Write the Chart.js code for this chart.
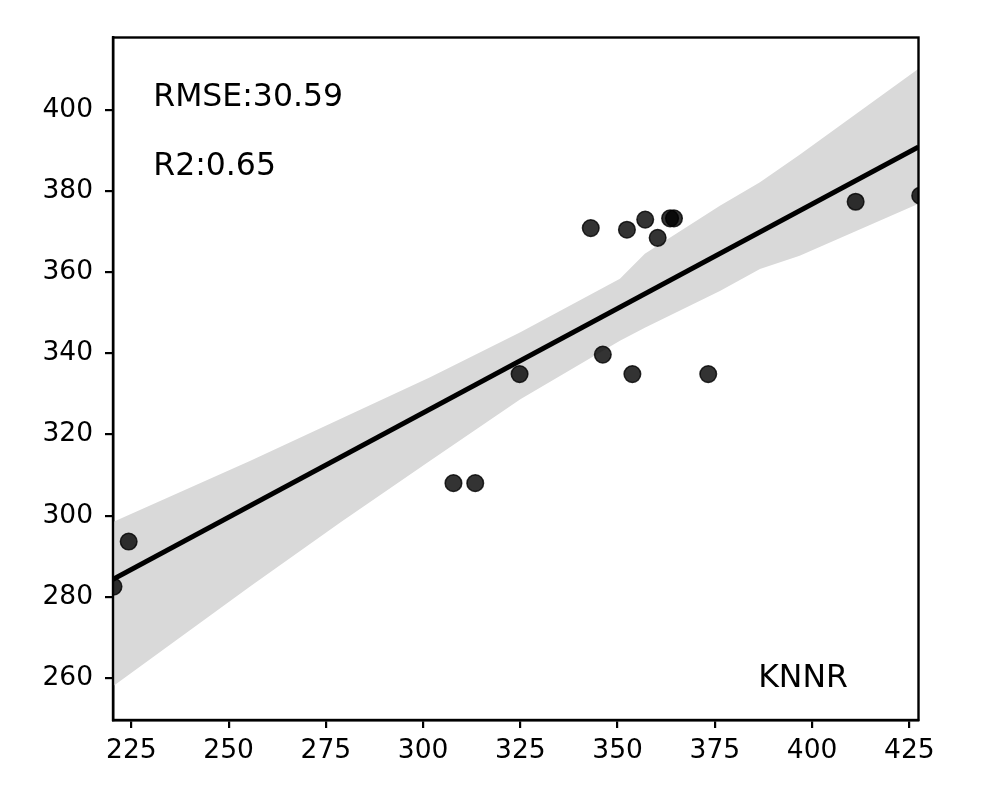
<!DOCTYPE html>
<html>
<head>
<meta charset="utf-8">
<script src="https://cdn.jsdelivr.net/npm/chart.js@4.4.1/dist/chart.umd.min.js"></script>
<style>
  html, body { margin: 0; padding: 0; background: #ffffff; }
  #wrap { width: 984px; height: 801px; position: relative; }
</style>
</head>
<body>
<div id="wrap"><canvas id="c"></canvas></div>
<script>
// ---- data ----
const pointX = [220.4, 224.3, 307.8, 313.4, 324.8, 343.1, 346.2, 352.4, 353.8, 357.1, 360.3, 363.5, 364.5, 373.3, 411.2, 427.8];
const pointY = [282.5, 293.6, 308.0, 308.0, 334.9, 370.9, 339.7, 370.5, 334.9, 373.0, 368.5, 373.3, 373.3, 334.9, 377.4, 378.9];

const fitX = [220.27, 427.36];
const fitY = [284.3, 390.9];

const bandX     = [220.27, 255.6, 278.7, 301.8, 325.0, 350.6, 357.0, 376.3, 386.6, 396.8, 427.36];
const bandUpper = [298.4, 313.5, 323.8, 334.1, 345.2, 358.4, 364.6, 376.4, 382.2, 389.0, 410.2];
const bandLower = [257.9, 282.6, 298.3, 313.5, 328.7, 343.1, 346.3, 355.4, 360.8, 364.1, 376.9];

const xTicks = [225, 250, 275, 300, 325, 350, 375, 400, 425];
const yTicks = [260, 280, 300, 320, 340, 360, 380, 400];
const xRange = [220.27, 427.36];
const yRange = [249.6, 417.9];

const metricLabels = ['RMSE:30.59', 'R2:0.65'];
const modelLabel = 'KNNR';

// ---- build ----
const zip = (xs, ys) => xs.map((x, i) => ({ x: x, y: ys[i] }));
const FONT = '"DejaVu Sans", "Liberation Sans", sans-serif';

const textPlugin = {
  id: 'frameAndText',
  afterDraw(chart) {
    const { ctx, chartArea: a } = chart;
    const w = a.right - a.left, h = a.bottom - a.top;
    ctx.save();
    ctx.strokeStyle = '#000';
    ctx.lineWidth = 2.4;
    ctx.strokeRect(a.left, a.top, w, h);
    ctx.fillStyle = '#000';
    ctx.font = '31.5px ' + FONT;
    ctx.textAlign = 'left';
    ctx.textBaseline = 'alphabetic';
    ctx.fillText(metricLabels[0], a.left + 0.050 * w, a.top + 0.1004 * h);
    ctx.fillText(metricLabels[1], a.left + 0.050 * w, a.top + 0.2015 * h);
    ctx.fillText(modelLabel, a.left + 0.801 * w, a.top + 0.951 * h);
    ctx.restore();
  }
};

new Chart(document.getElementById('c'), {
  type: 'scatter',
  data: {
    datasets: [
      {
        label: 'lower',
        data: zip(bandX, bandLower),
        showLine: true, borderWidth: 0, pointRadius: 0,
        borderColor: 'rgba(0,0,0,0)', fill: false, order: 5
      },
      {
        label: 'upper',
        data: zip(bandX, bandUpper),
        showLine: true, borderWidth: 0, pointRadius: 0,
        borderColor: 'rgba(0,0,0,0)',
        backgroundColor: 'rgb(217,217,217)',
        fill: 0, order: 4
      },
      {
        label: 'fit',
        data: zip(fitX, fitY),
        showLine: true, borderColor: '#000', borderWidth: 5,
        pointRadius: 0, fill: false, order: 3
      },
      {
        label: 'points',
        data: zip(pointX, pointY),
        pointRadius: 8.3,
        pointBackgroundColor: 'rgba(0,0,0,0.8)',
        pointBorderColor: 'rgba(0,0,0,0.8)',
        pointBorderWidth: 1.5,
        order: 1
      }
    ]
  },
  options: {
    responsive: true,
    maintainAspectRatio: false,
    animation: false,
    layout: { padding: { top: 37.5, right: 65.5, left: 0, bottom: 0 } },
    plugins: { legend: { display: false }, tooltip: { enabled: false } },
    scales: {
      x: {
        type: 'linear', min: xRange[0], max: xRange[1],
        afterBuildTicks: s => { s.ticks = xTicks.map(v => ({ value: v })); },
        afterFit: s => { s.height = 81; },
        grid: { display: true, drawOnChartArea: false, drawTicks: true, tickLength: 8, color: '#000', lineWidth: 2.2 },
        border: { display: true, color: '#000', width: 2.4 },
        ticks: { color: '#000', font: { family: FONT, size: 26.5 }, padding: 7, maxRotation: 0, autoSkip: false }
      },
      y: {
        type: 'linear', min: yRange[0], max: yRange[1],
        afterBuildTicks: s => { s.ticks = yTicks.map(v => ({ value: v })); },
        afterFit: s => { s.width = 113; },
        grid: { display: true, drawOnChartArea: false, drawTicks: true, tickLength: 8, color: '#000', lineWidth: 2.2 },
        border: { display: true, color: '#000', width: 2.4 },
        ticks: { color: '#000', font: { family: FONT, size: 26.5 }, padding: 12, autoSkip: false }
      }
    }
  },
  plugins: [textPlugin]
});
</script>
</body>
</html>
